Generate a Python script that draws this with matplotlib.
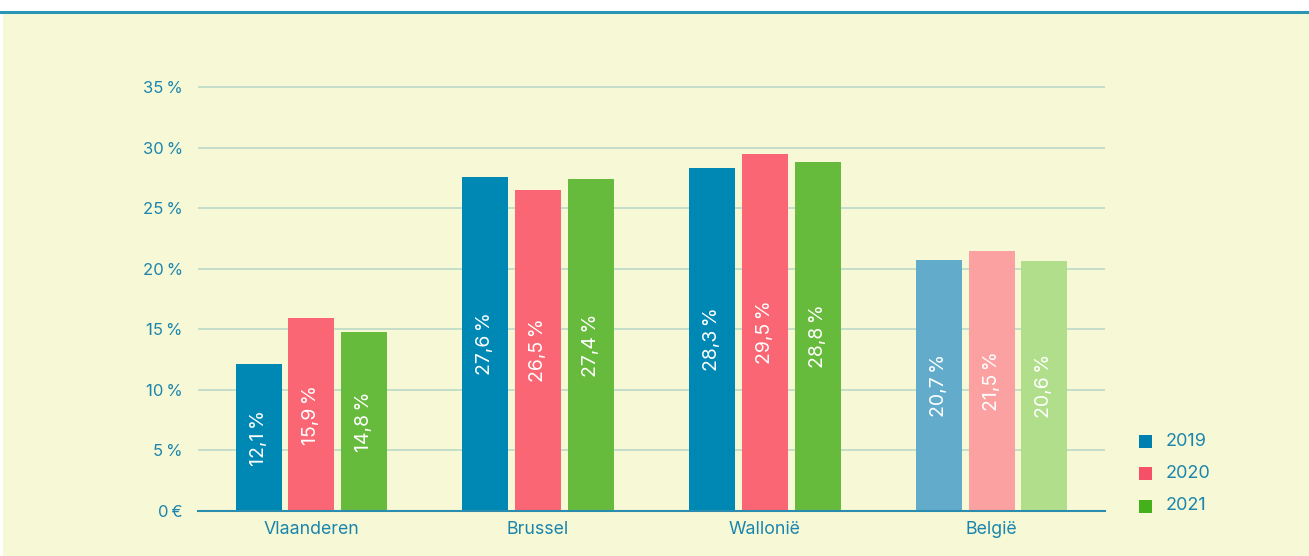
import matplotlib.pyplot as plt
import numpy as np

# data
regions = ['Vlaanderen', 'Brussel', 'Wallonië', 'België']
years = ['2019', '2020', '2021']
v2019 = [12.1, 27.6, 28.3, 20.7]
v2020 = [15.9, 26.5, 29.5, 21.5]
v2021 = [14.8, 27.4, 28.8, 20.6]
yticks = [0, 5, 10, 15, 20, 25, 30, 35]
ytick_labels = ['0\u2009€'] + [f'{t}\u2009%' for t in yticks[1:]]

plt.rcParams['font.family'] = ['Inter', 'DejaVu Sans']

bg = '#F7F9D6'
txt = '#1C85AD'
dark = ['#0088B4', '#FA6673', '#66BB3D']
light = ['#62ABCB', '#FCA1A1', '#B0DE8A']
legend_cols = ['#0080B0', '#F55068', '#44B11C']

fig = plt.figure(figsize=(13.09, 5.56), dpi=100)
fig.patch.set_facecolor('white')
# background panel and top rule
fig.patches.append(plt.Rectangle((3 / 1309, 0), 1, 1 - 13 / 556, transform=fig.transFigure,
                                 facecolor=bg, edgecolor='none', zorder=-10))
fig.add_artist(plt.Line2D([0, 1], [1 - 11.5 / 556] * 2, transform=fig.transFigure,
                          color='#2A95B5', lw=2.2))

ax = fig.add_axes([198 / 1309, 45 / 556, 907 / 1309, (511 - 45) / 556])
ax.set_facecolor('none')

x = np.arange(len(regions))
w = 0.203
step = 0.233
series = [v2019, v2020, v2021]
for i, vals in enumerate(series):
    for j, v in enumerate(vals):
        col = light[i] if regions[j] == 'België' else dark[i]
        xp = x[j] + (i - 1) * step
        ax.bar(xp, v, width=w, color=col, zorder=3)
        ax.text(xp, v / 2, f'{v:.1f}'.replace('.', ',') + '\u2009%', rotation=90,
                ha='center', va='center', color='white', fontsize=14, zorder=4)

ax.set_xlim(-0.5, 3.5)
ax.set_ylim(0, 35 * 466 / 424)
ax.set_yticks(yticks)
ax.set_yticklabels(ytick_labels, fontsize=12)
ax.set_xticks(x)
ax.set_xticklabels(regions, fontsize=12.8)
ax.tick_params(length=0, colors=txt)
ax.tick_params(axis='y', pad=11)
ax.tick_params(axis='x', pad=7)
for s in ['top', 'right', 'left']:
    ax.spines[s].set_visible(False)
ax.spines['bottom'].set_color('#2A8DB0')
ax.spines['bottom'].set_linewidth(1.5)
ax.spines['bottom'].set_zorder(5)
for t in yticks[1:]:
    ax.axhline(t, color='#BFDCC8', lw=1.3, zorder=1)

# legend
for i, y in enumerate(years):
    fy = 1 - (441 + i * 32.5) / 556
    fig.patches.append(plt.Rectangle((1139 / 1309, fy - 6.5 / 556), 13 / 1309, 13 / 556,
                                     transform=fig.transFigure, facecolor=legend_cols[i],
                                     edgecolor='none'))
    fig.text(1166 / 1309, fy, y, color=txt, fontsize=13, va='center', ha='left')

fig.savefig('out.png', dpi=100, facecolor=fig.get_facecolor())
